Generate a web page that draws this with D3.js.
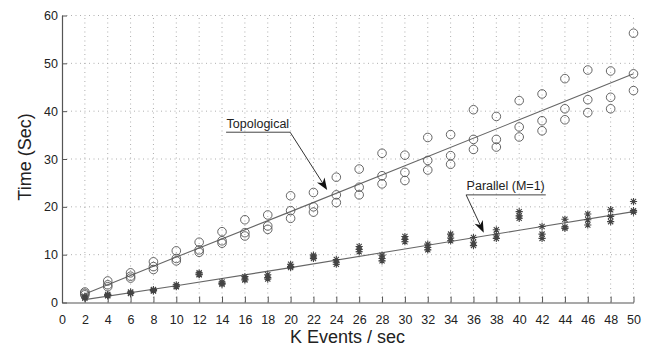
<!DOCTYPE html>
<html>
<head>
<meta charset="utf-8">
<script src="https://cdn.jsdelivr.net/npm/d3@7"></script>
<style>
  body { margin: 0; background: #fff; }
  svg text { font-family: "Liberation Sans", Arial, sans-serif; fill: #222; }
</style>
</head>
<body>
<svg id="chart" width="649" height="348"></svg>
<script>
// x values (K events / sec)
const xs = [2, 4, 6, 8, 10, 12, 14, 16, 18, 20, 22, 24, 26, 28, 30, 32, 34, 36, 38, 40, 42, 44, 46, 48, 50];

// Topological runs (3 per x)
const topoRuns = [
  [2.2, 1.9, 1.6], [4.5, 3.7, 3.3], [6.2, 5.5, 5.1], [8.5, 7.5, 6.9], [10.8, 9.2, 8.7],
  [12.6, 11.0, 10.5], [14.8, 12.9, 12.4], [17.3, 14.6, 13.9], [18.3, 16.0, 15.3], [22.3, 19.2, 17.6],
  [23.0, 20.0, 18.9], [26.2, 22.5, 20.9], [27.9, 24.1, 22.5], [31.2, 26.5, 24.8], [30.8, 27.2, 25.5],
  [34.5, 29.7, 27.7], [35.1, 30.7, 28.9], [40.3, 34.1, 32.0], [38.9, 34.1, 32.5], [42.2, 36.7, 34.6],
  [43.6, 38.0, 35.9], [46.8, 40.5, 38.2], [48.6, 42.4, 39.7], [48.4, 42.9, 40.5], [56.3, 47.8, 44.3]
];

// Parallel (M=1) runs (3 per x)
const paraRuns = [
  [1.3, 1.1, 0.9], [1.7, 1.5, 1.4], [2.2, 2.0, 1.9], [2.7, 2.5, 2.4], [3.7, 3.4, 3.3],
  [6.2, 5.9, 5.8], [4.3, 4.0, 3.8], [5.4, 4.9, 4.7], [5.8, 5.2, 4.9], [8.0, 7.5, 7.3],
  [9.9, 9.5, 9.2], [9.0, 8.4, 8.0], [11.7, 11.1, 10.6], [9.9, 9.2, 8.7], [13.8, 13.2, 12.7],
  [12.2, 11.5, 11.0], [14.3, 13.5, 12.9], [13.6, 12.6, 11.9], [15.2, 14.1, 13.4], [19.0, 18.1, 17.6],
  [15.9, 14.3, 13.4], [17.4, 15.8, 15.5], [18.5, 17.3, 16.2], [19.4, 18.0, 16.9], [21.1, 19.2, 18.9]
];

// fitted lines
const topoFit = [[2, 1.8], [10, 9.5], [20, 19.0], [30, 28.6], [40, 38.2], [50, 47.8]];
const paraFit = [[2, 0.6], [10, 3.5], [20, 7.3], [30, 11.2], [40, 15.1], [50, 19.0]];

const xTicks = d3.range(0, 51, 2);
const yTicks = [0, 10, 20, 30, 40, 50, 60];

const svg = d3.select("#chart");
const x = d3.scaleLinear().domain([0, 50]).range([62, 633.5]);
const y = d3.scaleLinear().domain([0, 60]).range([302.5, 15.5]);

/* grid */
svg.append("g").selectAll("line").data(xTicks.filter(d => d > 0)).join("line")
  .attr("x1", d => x(d)).attr("x2", d => x(d))
  .attr("y1", y(0)).attr("y2", y(60))
  .attr("stroke", "#9a9a9a").attr("stroke-width", 0.8)
  .attr("stroke-dasharray", "1,3.5");
svg.append("g").selectAll("line").data(yTicks.filter(d => d > 0)).join("line")
  .attr("x1", x(0)).attr("x2", x(50))
  .attr("y1", d => y(d)).attr("y2", d => y(d))
  .attr("stroke", "#9a9a9a").attr("stroke-width", 0.8)
  .attr("stroke-dasharray", "1,3.5");

/* axes */
const xAxis = svg.append("g").attr("transform", `translate(0,${y(0)})`)
  .call(d3.axisBottom(x).tickValues(xTicks).tickSizeInner(-6).tickSizeOuter(0).tickPadding(10));
const yAxis = svg.append("g").attr("transform", `translate(${x(0)},0)`)
  .call(d3.axisLeft(y).tickValues(yTicks).tickSizeInner(-5).tickSizeOuter(0).tickPadding(4));
for (let ax of [xAxis, yAxis]) {
  ax.select(".domain").attr("stroke", "#555").attr("stroke-width", 1.2);
  ax.selectAll(".tick line").attr("stroke", "#555");
  ax.selectAll(".tick text")
    .style("font-family", "Liberation Sans, Arial, sans-serif")
    .style("font-size", "12.5px").attr("fill", "#222");
}
xAxis.selectAll(".tick text").attr("dy", "0.95em");

svg.append("text")
  .attr("x", 347.5).attr("y", 343)
  .attr("text-anchor", "middle")
  .style("font-size", "18px")
  .text("K Events / sec");
svg.append("text")
  .attr("transform", "translate(31,157) rotate(-90)")
  .attr("text-anchor", "middle")
  .style("font-size", "18px")
  .text("Time (Sec)");

/* fitted lines */
const line = d3.line().x(d => x(d[0])).y(d => y(d[1]));
for (let fit of [topoFit, paraFit]) {
  svg.append("path").datum(fit)
    .attr("d", line)
    .attr("fill", "none").attr("stroke", "#666").attr("stroke-width", 1.1);
}

/* markers */
const topoPts = [], paraPts = [];
xs.forEach((k, i) => {
  topoRuns[i].forEach(v => topoPts.push([k, v]));
  paraRuns[i].forEach(v => paraPts.push([k, v]));
});

svg.append("g").selectAll("circle").data(topoPts).join("circle")
  .attr("cx", d => x(d[0])).attr("cy", d => y(d[1]))
  .attr("r", 4.3)
  .attr("fill", "none").attr("stroke", "#555").attr("stroke-width", 0.9);

// asterisk: + and x together
const s = 3.6, t = s * 0.72;
const starPath = `M0,${-s}V${s}M${-s},0H${s}M${-t},${-t}L${t},${t}M${-t},${t}L${t},${-t}`;
svg.append("g").selectAll("path").data(paraPts).join("path")
  .attr("transform", d => `translate(${x(d[0])},${y(d[1])})`)
  .attr("d", starPath)
  .attr("fill", "none").attr("stroke", "#444").attr("stroke-width", 1.1);

/* annotations */
function addArrow(label, tx, ty, lineEnd, tip) {
  // label with underline, then arrow from underline end to tip
  const txt = svg.append("text")
    .attr("x", x(tx)).attr("y", y(ty) - 4.5)
    .style("font-size", "12.5px")
    .text(label);
  const w = txt.node().getComputedTextLength();
  const ux1 = x(tx) - 0.5, ux2 = lineEnd === "right" ? x(tx) + w + 1 : x(tx) - 0.5;
  svg.append("line")
    .attr("x1", ux1).attr("x2", x(tx) + w + 1)
    .attr("y1", y(ty)).attr("y2", y(ty))
    .attr("stroke", "#444").attr("stroke-width", 1);
  const sx = ux2, sy = y(ty);
  const ex = x(tip[0]), ey = y(tip[1]);
  const ang = Math.atan2(ey - sy, ex - sx);
  const len = 12, half = 4.5, back = 8.5;
  svg.append("line")
    .attr("x1", sx).attr("y1", sy)
    .attr("x2", ex - Math.cos(ang) * back).attr("y2", ey - Math.sin(ang) * back)
    .attr("stroke", "#333").attr("stroke-width", 1);
  svg.append("path")
    .attr("transform", `translate(${ex},${ey}) rotate(${ang * 180 / Math.PI})`)
    .attr("d", `M0,0L${-len},${-half}L${-back},0L${-len},${half}Z`)
    .attr("fill", "#111");
}

addArrow("Topological", 14.4, 35.6, "right", [23.2, 23.5]);
addArrow("Parallel (M=1)", 35.4, 22.5, "left", [36.9, 14.6]);
</script>
</body>
</html>
